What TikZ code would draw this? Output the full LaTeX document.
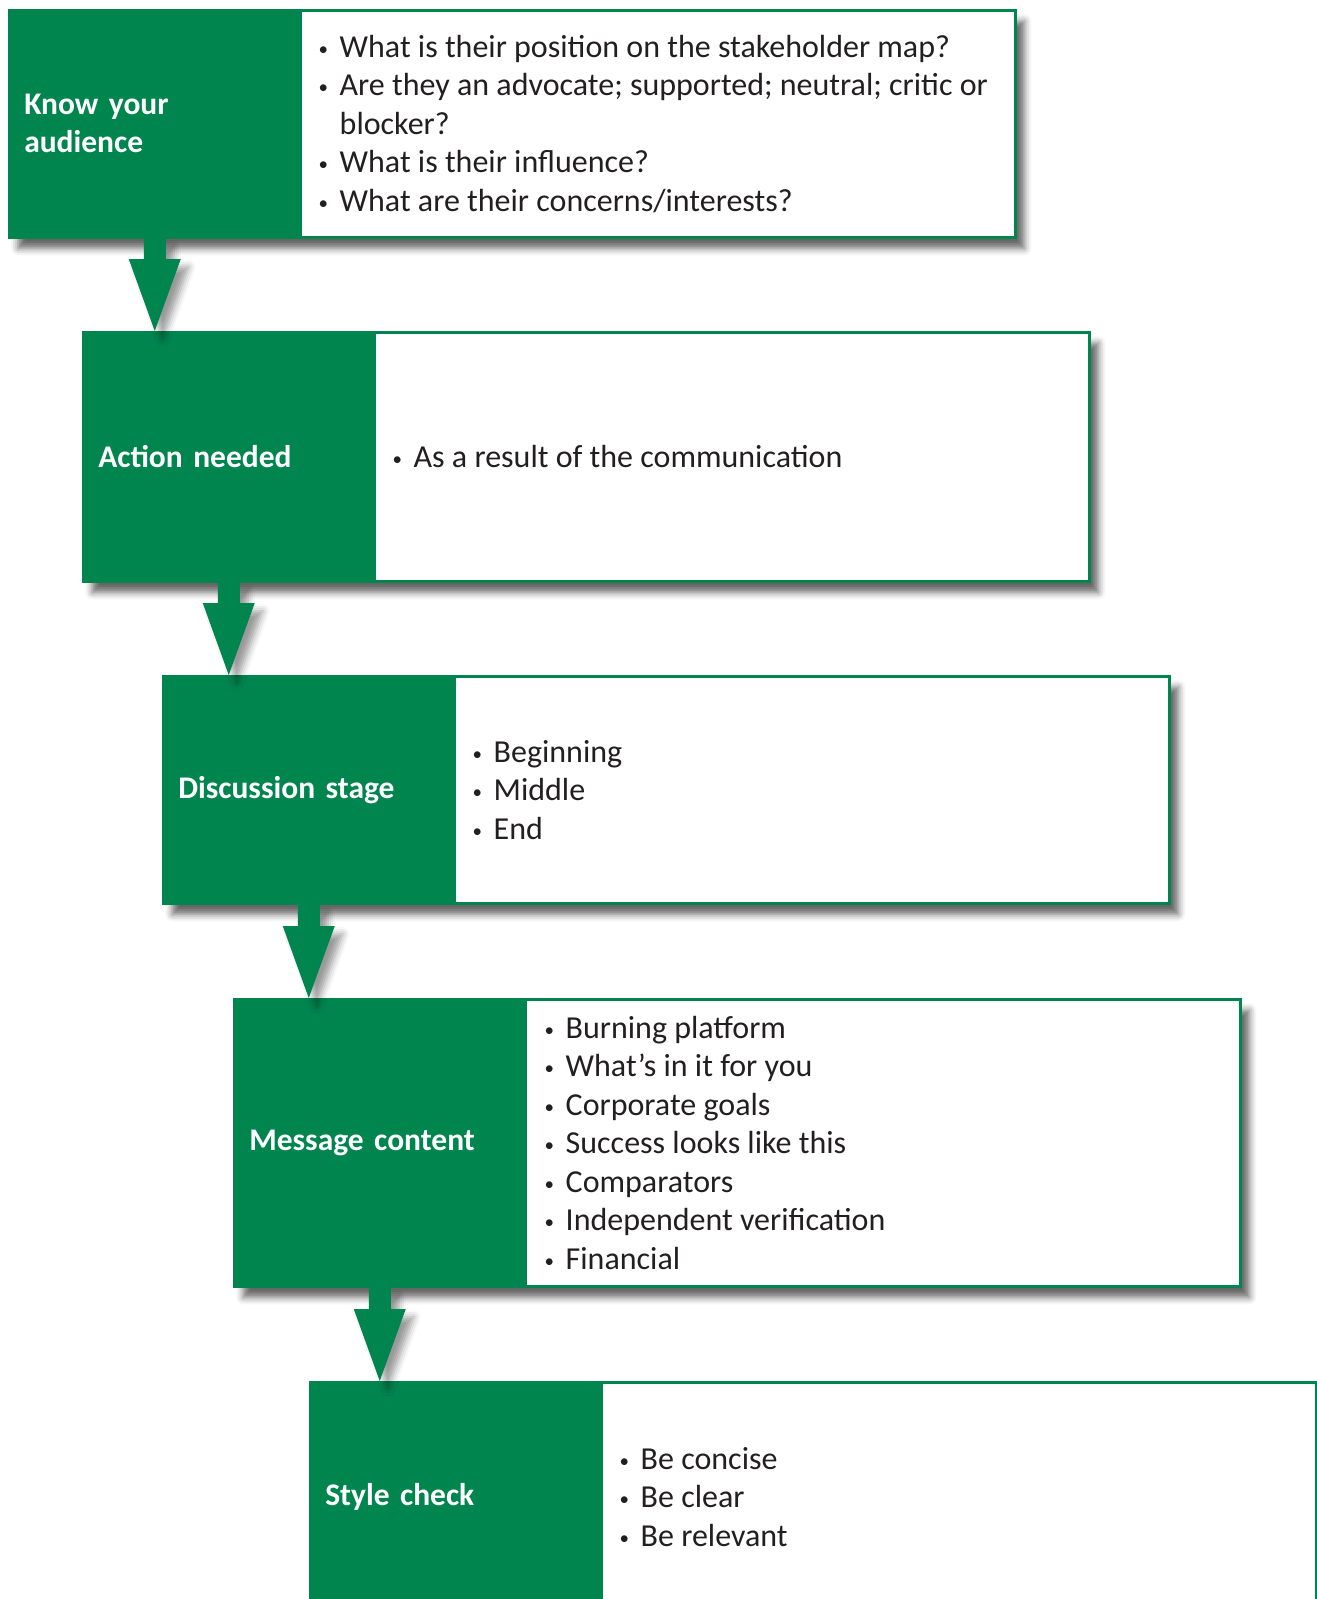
\documentclass[tikz,border=0pt]{standalone}
\usepackage{fontspec}
\setmainfont{Carlito}
\usetikzlibrary{positioning,calc,shadows.blur}
\definecolor{stageGreen}{HTML}{00854F}
\definecolor{stageInk}{HTML}{231F20}
\newcommand{\bul}[1]{\makebox[21pt][l]{\raisebox{2pt}{\fontsize{19}{19}\selectfont\textbullet}}#1}
\newcommand{\cont}[1]{\hspace*{21pt}#1}
\tikzset{
  % soft drop shadow under boxes and arrows
  softshadow/.style={blur shadow={shadow xshift=9pt, shadow yshift=-11pt,
      shadow blur radius=7pt, shadow opacity=60}},
}
\begin{document}
\begin{tikzpicture}[x=1pt,y=1pt,
  stagebox/.style={draw=stageGreen, fill=white, line width=2.5pt, anchor=north west,
                   minimum width=1006pt, inner sep=0pt, softshadow},
  head/.style={draw=stageGreen, fill=stageGreen, line width=2.5pt, anchor=north west,
               text width=261pt, inner xsep=15pt, inner ysep=0pt, align=left,
               text=white, font=\fontsize{31.5}{38}\selectfont\bfseries},
  items/.style={anchor=west, inner sep=0pt, align=left, text=stageInk,
                font=\fontsize{32}{38.5}\selectfont},
  flow/.style={fill=stageGreen, blur shadow={shadow xshift=8pt, shadow yshift=-8pt,
      shadow blur radius=7pt, shadow opacity=40}}]
  \useasboundingbox (0,0) rectangle (1317,-1599);
  \clip (0,0) rectangle (1317,-1599);

  \node[stagebox, minimum height=227pt] (know) at (8,-9) {};
  \node[head, minimum height=227pt] (know-hd) at (know.north west) {Know your\\audience};
  \node[items] (know-list) at ([xshift=17pt]know-hd.east)
       {\bul{What is their position on the stakeholder map?}\\
        \bul{Are they an advocate; supported; neutral; critic or}\\
        \cont{blocker?}\\
        \bul{What is their influence?}\\
        \bul{What are their concerns/interests?}};

  \node[stagebox, minimum height=249pt] (act) at (82,-331) {};
  \node[head, minimum height=249pt] (act-hd) at (act.north west) {Action needed};
  \node[items] (act-list) at ([xshift=17pt]act-hd.east)
       {\bul{As a result of the communication}};

  \node[stagebox, minimum height=227pt] (disc) at (162,-675) {};
  \node[head, minimum height=227pt] (disc-hd) at (disc.north west) {Discussion stage};
  \node[items] (disc-list) at ([xshift=17pt]disc-hd.east)
       {\bul{Beginning}\\ \bul{Middle}\\ \bul{End}};

  \node[stagebox, minimum height=287pt] (msg) at (233,-998) {};
  \node[head, minimum height=287pt] (msg-hd) at (msg.north west) {Message content};
  \node[items] (msg-list) at ([xshift=18pt]msg-hd.east)
       {\bul{Burning platform}\\ \bul{What’s in it for you}\\ \bul{Corporate goals}\\
        \bul{Success looks like this}\\ \bul{Comparators}\\
        \bul{Independent verification}\\ \bul{Financial}};

  \node[stagebox, minimum height=229pt] (style) at (309,-1381) {};
  \node[head, minimum height=229pt] (style-hd) at (style.north west) {Style check};
  \node[items] (style-list) at ([xshift=17pt]style-hd.east)
       {\bul{Be concise}\\ \bul{Be clear}\\ \bul{Be relevant}};

  \foreach \a/\b in {know/act,act/disc,disc/msg,msg/style}{
    \fill[flow] ($(\a-hd.south)+(-11,0)$) -- ($(\a-hd.south |- \b.north)+(-11,72)$)
      -- ++(-15,0) -- (\a-hd.south |- \b.north) -- ++(26,72) -- ++(-15,0)
      -- ($(\a-hd.south)+(11,0)$) -- cycle;
  }
\end{tikzpicture}
\end{document}
